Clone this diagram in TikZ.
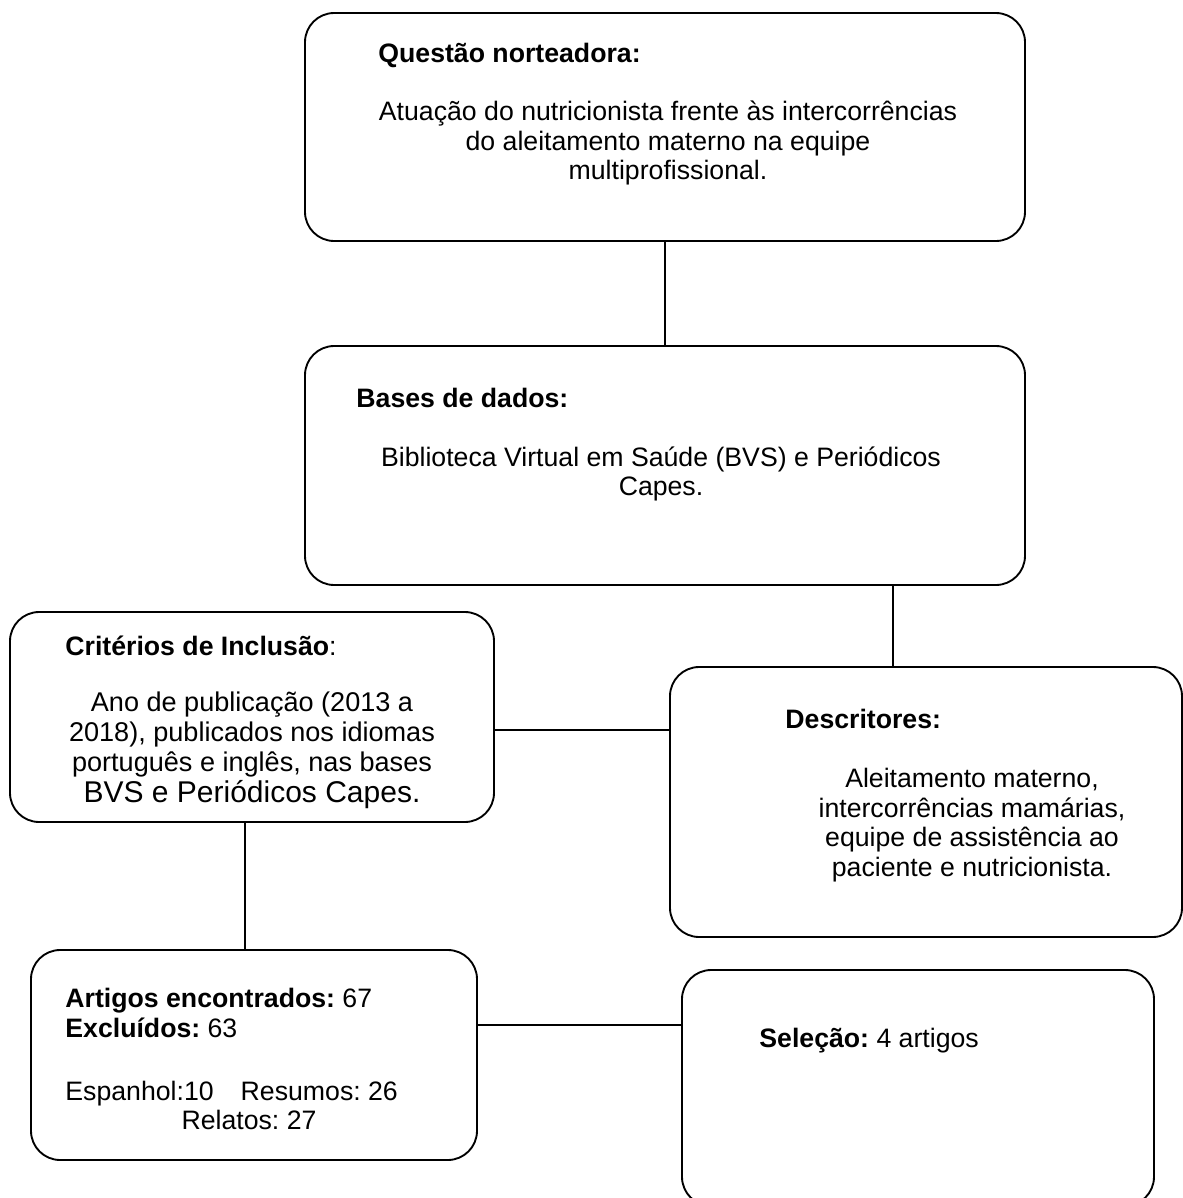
\documentclass[tikz,border=0pt]{standalone}
\usepackage{fontspec}
\setmainfont{Liberation Sans}
\usetikzlibrary{fit}
\frenchspacing

\tikzset{
  caixa/.style={draw, rounded corners=14pt, line width=0.9pt, inner sep=0pt},
  corpo/.style={align=center, inner sep=0pt},
  titulo/.style={anchor=base west, inner sep=0pt},
  liga/.style={line width=0.9pt}
}

\begin{document}
\begin{tikzpicture}[x=0.48pt, y=-0.48pt, font=\fontsize{12.8}{14.3}\selectfont]
\useasboundingbox (0,0) rectangle (1183,1198);

% caixas
\node[caixa, fit={(305,13) (1025,241)}] (questao) {};
\node[caixa, fit={(305,346) (1025,585)}] (bases) {};
\node[caixa, fit={(10,612) (494,822)}] (criterios) {};
\node[caixa, fit={(670,667) (1182,937)}] (descritores) {};
\node[caixa, fit={(31,950) (477,1160)}] (artigos) {};
\node[caixa, fit={(682,970) (1154,1206)}] (selecao) {};

% textos
\node[titulo] (tq) at (378,62) {\textbf{Questão norteadora:}};
\node[corpo] (cq) at (668,143) {Atuação do nutricionista frente às intercorrências\\do aleitamento materno na equipe\\multiprofissional.};

\node[titulo] (tb) at (356,407) {\textbf{Bases de dados:}};
\node[corpo] (cb) at (661,474) {Biblioteca Virtual em Saúde (BVS) e Periódicos\\Capes.};

\node[titulo] (tc) at (65,655) {\textbf{Critérios de Inclusão}:};
\node[corpo, font=\fontsize{13}{14.5}\selectfont] (cc) at (252,750) {Ano de publicação (2013 a\\2018), publicados nos idiomas\\português e inglês, nas bases\\{\fontsize{14.4}{15}\selectfont BVS e Periódicos Capes.}};

\node[titulo] (td) at (785,728) {\textbf{Descritores:}};
\node[corpo] (cd) at (972,825) {Aleitamento materno,\\intercorrências mamárias,\\equipe de assistência ao\\paciente e nutricionista.};

\node[titulo] (encontrados) at (65,1007) {\textbf{Artigos encontrados:} 67};
\node[titulo] (excluidos) at (65,1037) {\textbf{Excluídos:} 63};
\node[titulo] (espanhol) at (65,1100) {Espanhol:10\hspace{13pt}Resumos: 26};
\node[anchor=base, inner sep=0pt] (relatos) at (249,1129) {Relatos: 27};

\node[titulo] (sel) at (759,1047) {\textbf{Seleção:} 4 artigos};

% ligacoes
\coordinate (ligA) at (893,0);
\coordinate (ligB) at (0,730);
\coordinate (ligC) at (245,0);
\coordinate (ligD) at (0,1025);

\draw[liga] (questao.south) -- (bases.north);
\draw[liga] (bases.south -| ligA) -- (descritores.north -| ligA);
\draw[liga] (criterios.east |- ligB) -- (descritores.west |- ligB);
\draw[liga] (criterios.south -| ligC) -- (artigos.north -| ligC);
\draw[liga] (artigos.east |- ligD) -- (selecao.west |- ligD);

\end{tikzpicture}
\end{document}
